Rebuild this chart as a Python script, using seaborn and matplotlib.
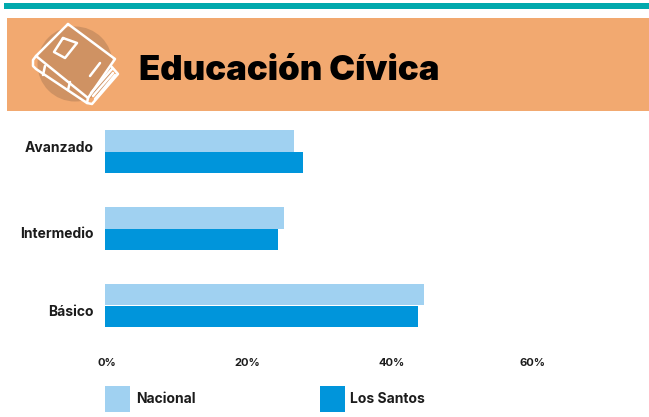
import matplotlib
matplotlib.use("Agg")
import matplotlib.pyplot as plt
from matplotlib.patches import Rectangle, Circle
from matplotlib.transforms import ScaledTranslation
import pandas as pd
import seaborn as sns

categories = ["Avanzado", "Intermedio", "Básico"]
nacional = [26.6, 25.2, 44.9]
los_santos = [27.9, 24.4, 44.1]
series_names = ["Nacional", "Los Santos"]
tick_values = [0, 20, 40, 60]
tick_labels = ["0%", "20%", "40%", "60%"]
title = "Educación Cívica"

W, H = 649, 417
sns.set_theme(style="white")
plt.rcParams["font.family"] = ["Inter", "DejaVu Sans"]
TXT = "#1c1c1c"

fig = plt.figure(figsize=(W / 100, H / 100), dpi=100, facecolor="white")

# header layer in pixel coordinates
bg = fig.add_axes([0, 0, 1, 1], zorder=0)
bg.set_xlim(0, W)
bg.set_ylim(H, 0)
bg.axis("off")
bg.add_patch(Rectangle((4, 3), W - 4, 6, color="#00A9AD", lw=0))
bg.add_patch(Rectangle((7, 18), W - 7, 93, color="#F2A970", lw=0))
bg.add_patch(Circle((75, 64), 37.5, color="#CF9263", lw=0))
line = dict(color="white", lw=1.8, solid_capstyle="round", solid_joinstyle="round")
paths = [
    [(68, 24), (115, 59), (88, 98), (36, 56), (68, 24)],
    [(36, 56), (33, 60), (33, 66), (36, 69), (87, 103), (92, 104), (118, 74), (111, 66)],
    [(88, 98), (87, 103)],
    [(45, 66), (43, 75)], [(70, 82), (68, 90)],
    [(63, 38), (77, 43), (65, 58), (54, 52), (63, 38)],
    [(100, 63), (90, 76)],
    [(112, 69), (91, 93)], [(113, 73), (93, 96)], [(115, 75), (95, 99)],
]
for p in paths:
    xs, ys = zip(*p)
    bg.plot(xs, ys, **line)

bg.text(139, 71, title, fontsize=25, fontweight="black", color="black",
        va="center", ha="left")

# chart
px_l, px_r, px_t, px_b = 105, 645, 113, 344
ax = fig.add_axes([px_l / W, 1 - px_b / H, (px_r - px_l) / W, (px_b - px_t) / H], zorder=1)
ax.patch.set_alpha(0)
df = pd.DataFrame({
    "nivel": categories * 2,
    "valor": nacional + los_santos,
    "serie": [series_names[0]] * 3 + [series_names[1]] * 3,
})
sns.barplot(data=df, y="nivel", x="valor", hue="serie", order=categories,
            hue_order=series_names, palette=["#A0D1F1", "#0095DB"], orient="h",
            width=0.56, gap=0, saturation=1, ax=ax, legend=False, linewidth=0)
ax.set_xlim(0, 76)
ax.set_ylim(2.5, -0.5)
ax.set_xlabel("")
ax.set_ylabel("")
ax.set_xticks(tick_values, tick_labels)
ax.tick_params(axis="x", length=0, pad=10, labelsize=8, labelcolor=TXT)
ax.tick_params(axis="y", length=0, pad=8, labelsize=10, labelcolor=TXT)
for lab in ax.get_xticklabels() + ax.get_yticklabels():
    lab.set_fontweight("bold")
# the reference's labels sit slightly off the band centres
for lab, dy in zip(ax.get_yticklabels(), [4.5, -4.5, -5.5]):
    lab.set_transform(lab.get_transform() + ScaledTranslation(0, dy / 100, fig.dpi_scale_trans))
for lab, dx in zip(ax.get_xticklabels(), [2, 0, 2, 1]):
    lab.set_transform(lab.get_transform() + ScaledTranslation(dx / 100, 0, fig.dpi_scale_trans))
sns.despine(ax=ax, left=True, bottom=True)

handles = [Rectangle((0, 0), 1, 1, color=c, lw=0) for c in ["#A0D1F1", "#0095DB"]]
fs = 10
px = fs * 100 / 72
leg = fig.legend(handles, series_names, ncols=2, loc="lower left",
                 bbox_to_anchor=(105 / W, 1 - 412 / H), frameon=False,
                 borderpad=0, borderaxespad=0, handlelength=25 / px, handleheight=(26 / px - 0.245) / 0.65,
                 handletextpad=6 / px, columnspacing=124 / px, labelcolor=TXT,
                 prop=dict(weight="bold", size=fs))
fig.savefig("out.png", dpi=100)
